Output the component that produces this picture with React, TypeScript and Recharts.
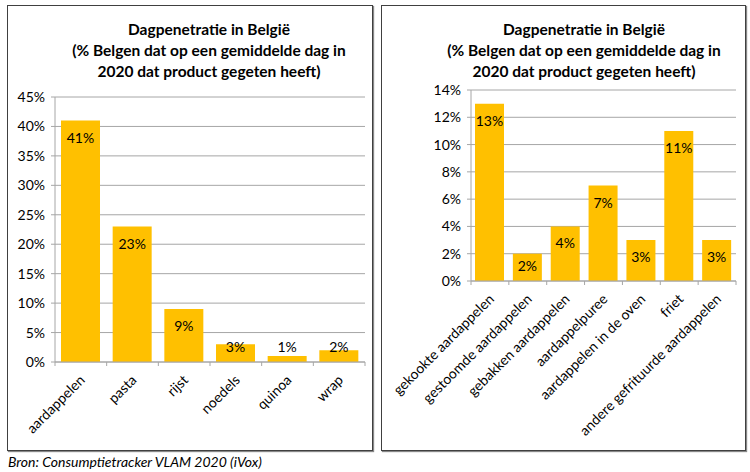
import React from 'react';
import { BarChart, Bar, XAxis, YAxis, CartesianGrid, LabelList } from 'recharts';

const leftCategories = ['aardappelen', 'pasta', 'rijst', 'noedels', 'quinoa', 'wrap'];
const leftValues = [41, 23, 9, 3, 1, 2];
const leftTicks = [0, 5, 10, 15, 20, 25, 30, 35, 40, 45];

const rightCategories = [
  'gekookte aardappelen',
  'gestoomde aardappelen',
  'gebakken aardappelen',
  'aardappelpuree',
  'aardappelen in de oven',
  'friet',
  'andere gefrituurde aardappelen',
];
const rightValues = [13, 2, 4, 7, 3, 11, 3];
const rightTicks = [0, 2, 4, 6, 8, 10, 12, 14];

const titleLines = [
  'Dagpenetratie in België',
  '(% Belgen dat op een gemiddelde dag in',
  '2020 dat product gegeten heeft)',
];
const source = 'Bron: Consumptietracker VLAM 2020 (iVox)';

const FONT = 'Lato, "Open Sans", sans-serif';
const BAR = '#FFC000';
const GRID = '#a6a6a6';

// category label, rotated 45°, plus the tick marks at the band edges (Excel style)
const XTick = (props: any) => {
  const { x, y, payload, index, visibleTicksCount } = props;
  const half = payload.offset || 0;
  const axisY = y - 6;
  const tx = x + 5;
  const ty = y + 13;
  return (
    <g>
      <line x1={x - half} x2={x - half} y1={axisY} y2={axisY + 4} stroke={GRID} />
      {index === visibleTicksCount - 1 && (
        <line x1={x + half} x2={x + half} y1={axisY} y2={axisY + 4} stroke={GRID} />
      )}
      <text
        x={tx}
        y={ty}
        transform={`rotate(-45, ${tx}, ${ty})`}
        textAnchor="end"
        fontSize={14}
        fontFamily={FONT}
        fill="#000"
      >
        {payload.value}
      </text>
    </g>
  );
};

const ValueLabel = (props: any) => {
  const { x, y, width, height, value } = props;
  const cy = Math.min(y + 17, y + height - 15);
  return (
    <text
      x={x + width / 2}
      y={cy}
      dy={5}
      textAnchor="middle"
      fontSize={14}
      fontFamily={FONT}
      fill="#000"
    >
      {value}%
    </text>
  );
};

const Title = ({ cx }: { cx: number }) => (
  <div
    style={{
      position: 'absolute',
      left: cx - 180,
      top: 19,
      width: 360,
      textAlign: 'center',
      fontFamily: FONT,
      fontWeight: 'bold',
      fontSize: 15.5,
      lineHeight: '21px',
    }}
  >
    {titleLines.map((t) => (
      <div key={t}>{t}</div>
    ))}
  </div>
);

const Panel = ({ left, width }: { left: number; width: number }) => (
  <div
    style={{
      position: 'absolute',
      left,
      top: 5,
      width,
      height: 446,
      border: '1px solid #404040',
      boxShadow: '1px 1px 1px #888',
      boxSizing: 'border-box',
      background: '#fff',
    }}
  />
);

const leftData = leftCategories.map((name, i) => ({ name, value: leftValues[i] }));
const rightData = rightCategories.map((name, i) => ({ name, value: rightValues[i] }));

const tickStyle = { fontSize: 14, fontFamily: FONT, fill: '#000' };

export default function App() {
  return (
    <div style={{ position: 'absolute', left: 0, top: 0, width: 750, height: 472, background: '#fff' }}>
      <Panel left={7} width={366} />
      <Panel left={381} width={365} />
      <Title cx={209} />
      <Title cx={584} />

      <div style={{ position: 'absolute', left: 0, top: 0 }}>
        <BarChart
          width={375}
          height={450}
          data={leftData}
          margin={{ top: 97, right: 10, left: 10, bottom: 8 }}
          barSize={39}
        >
          <CartesianGrid vertical={false} stroke={GRID} />
          <XAxis
            dataKey="name"
            interval={0}
            height={80}
            tick={<XTick />}
            tickLine={false}
            axisLine={{ stroke: GRID }}
            tickSize={4}
          />
          <YAxis
            width={45}
            domain={[0, 45]}
            ticks={leftTicks}
            tickFormatter={(v: number) => `${v}%`}
            tick={tickStyle}
            tickLine={{ stroke: GRID }}
            axisLine={{ stroke: GRID }}
            tickSize={4}
            tickMargin={6}
          />
          <Bar dataKey="value" fill={BAR} isAnimationActive={false}>
            <LabelList dataKey="value" content={<ValueLabel />} />
          </Bar>
        </BarChart>
      </div>

      <div style={{ position: 'absolute', left: 375, top: 0 }}>
        <BarChart
          width={375}
          height={450}
          data={rightData}
          margin={{ top: 90, right: 14, left: 46, bottom: 9 }}
          barSize={29}
        >
          <CartesianGrid vertical={false} stroke={GRID} />
          <XAxis
            dataKey="name"
            interval={0}
            height={160}
            tick={<XTick />}
            tickLine={false}
            axisLine={{ stroke: GRID }}
            tickSize={4}
          />
          <YAxis
            width={50}
            domain={[0, 14]}
            ticks={rightTicks}
            tickFormatter={(v: number) => `${v}%`}
            tick={tickStyle}
            tickLine={{ stroke: GRID }}
            axisLine={{ stroke: GRID }}
            tickSize={4}
            tickMargin={6}
          />
          <Bar dataKey="value" fill={BAR} isAnimationActive={false}>
            <LabelList dataKey="value" content={<ValueLabel />} />
          </Bar>
        </BarChart>
      </div>

      <div
        style={{
          position: 'absolute',
          left: 8,
          top: 453,
          fontFamily: FONT,
          fontStyle: 'italic',
          fontSize: 14,
        }}
      >
        {source}
      </div>
    </div>
  );
}
